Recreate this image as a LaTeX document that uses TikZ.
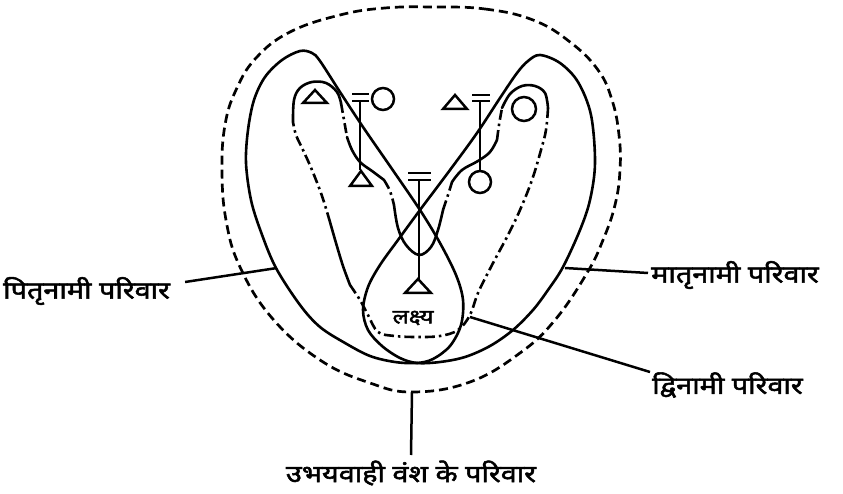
\documentclass[tikz,border=0pt]{standalone}
\usepackage{fontspec}
\newfontfamily\dev[Script=Devanagari, FakeBold=2.2, FakeStretch=1.2]{Noto Sans}
\begin{document}
\begin{tikzpicture}[x=1pt,y=-1pt,
  solidline/.style={line width=2.6pt, line join=round, line cap=round},
  dashline/.style={line width=2.7pt, dash pattern=on 9pt off 5pt},
  ddline/.style={line width=2.6pt, dash pattern=on 10pt off 4pt on 2.5pt off 4pt},
  leader/.style={line width=2.5pt},
  lbl/.style={font=\dev\fontsize{24}{26}\selectfont, inner sep=0pt},
  sym/.style={line width=2.5pt, line join=miter}]
\fill[white] (0,0) rectangle (843,494);
\useasboundingbox (0,0) rectangle (843,494);

% outer dashed boundary (ambilineal)
\draw[dashline] plot[smooth cycle, tension=0.7] coordinates {
 (433,7) (485,9) (533,20) (570,42) (598,70) (612,100) (619,135) (620,170)
 (615,205) (603,240) (587,273) (555,320) (520,353) (470,382) (413,392)
 (370,383) (320,360) (272,318) (240,267) (226,220) (222,170) (225,125)
 (236,90) (256,58) (290,32) (340,15) (385,8)};

% patrilineal loop
\draw[solidline] plot[smooth cycle, tension=0.55] coordinates {
 (300,51) (312,53) (320,61) (340,92) (363,127) (392,169) (420,210)
 (440,243) (456,275) (463,300) (461,325) (450,346) (433,359) (417,363)
 (395,362) (370,356) (345,343) (320,327) (300,305) (276,268) (261,232)
 (251,200) (246,163) (248,130) (254,100) (265,77) (282,60)};

% matrilineal loop
\draw[solidline] plot[smooth cycle, tension=0.55] coordinates {
 (540,55) (528,61) (517,73) (500,98) (477,133) (450,170) (420,210)
 (398,240) (380,265) (368,287) (363,310) (368,330) (382,346) (400,358)
 (417,363) (440,362) (465,357) (490,346) (513,330) (533,310) (548,290)
 (563,267) (580,230) (590,200) (595,163) (591,115) (578,82) (560,63)};

% bilateral loop (dash-dot, partly solid as drawn)
\draw[solidline] plot[smooth, tension=0.6] coordinates {
 (293,122) (294,100) (300,88) (312,82) (326,83) (337,92) (341,103)};
\draw[ddline] plot[smooth, tension=0.6] coordinates {
 (341,103) (344,120) (347,137)};
\draw[solidline] plot[smooth, tension=0.6] coordinates {
 (347,137) (352,150) (360,162) (372,171) (384,180)};
\draw[ddline] plot[smooth, tension=0.6] coordinates {
 (384,180) (390,191) (394,205)};
\draw[solidline] plot[smooth, tension=0.6] coordinates {
 (394,205) (398,228) (406,245) (419,255) (431,247) (438,230) (443,210)};
\draw[ddline] plot[smooth, tension=0.6] coordinates {
 (443,210) (448,195) (452,182)};
\draw[solidline] plot[smooth, tension=0.6] coordinates {
 (452,182) (462,170) (478,161) (490,152) (497,140)};
\draw[ddline] plot[smooth, tension=0.6] coordinates {
 (497,140) (499,125) (502,108)};
\draw[solidline] plot[smooth, tension=0.6] coordinates {
 (502,108) (510,94) (522,86) (535,86) (545,93) (548,108)};
\draw[ddline] plot[smooth, tension=0.6] coordinates {
 (548,108) (546,130) (541,150) (532,180) (520,210) (508,235) (492,265)
 (478,293) (470,315) (458,330) (440,336) (417,337) (395,336) (378,332)
 (368,315) (360,300) (350,285)};
\draw[solidline] plot[smooth, tension=0.6] coordinates {
 (350,285) (343,266) (336,243) (330,222)};
\draw[ddline] plot[smooth, tension=0.6] coordinates {
 (330,222) (322,196) (312,170) (303,150) (296,135) (293,122)};

% kinship symbols
% paternal grandparents
\draw[sym] (303,103) -- (315,90) -- (327,103) -- cycle;
\draw[sym] (352,94) -- (369,94) (352,101) -- (369,101) (360,101) -- (360,170);
\draw[sym] (383,99) circle (11);
\draw[sym] (350,186) -- (361,171) -- (372,186) -- cycle;
% maternal grandparents
\draw[sym] (443,109) -- (455,95) -- (467,109) -- cycle;
\draw[sym] (472,95) -- (490,95) (472,101) -- (490,101) (480,101) -- (480,171);
\draw[sym] (524,109) circle (12);
\draw[sym] (480,182) circle (11);
% parents and ego
\draw[sym] (408,173) -- (431,173) (408,180) -- (431,180) (419,180) -- (419,280);
\draw[sym] (405,293) -- (418,279) -- (431,293) -- cycle;
\node[font=\dev\fontsize{20}{22}\selectfont, inner sep=0pt] (ego) at (413,318) {लक्ष्य};

% labels and leaders
\coordinate (pL) at (277,268);
\coordinate (pR) at (565,268);
\coordinate (pB) at (470,317);
\coordinate (pA) at (412,392);
\node[lbl, anchor=west] (tL) at (3,291) {पितृनामी परिवार};
\node[lbl, anchor=west] (tR) at (651,275) {मातृनामी परिवार};
\node[lbl, anchor=west] (tB) at (652,385) {द्विनामी परिवार};
\node[lbl] (tA) at (411,473) {उभयवाही वंश के परिवार};
\draw[leader] ([xshift=15pt,yshift=9pt]tL.east) -- (pL);
\draw[leader] ([xshift=-3pt,yshift=2pt]tR.west) -- (pR);
\draw[leader] ([xshift=-2pt,yshift=13pt]tB.west) -- (pB);
\draw[leader] ([yshift=18pt]tA.center) -- (pA);
\end{tikzpicture}
\end{document}
